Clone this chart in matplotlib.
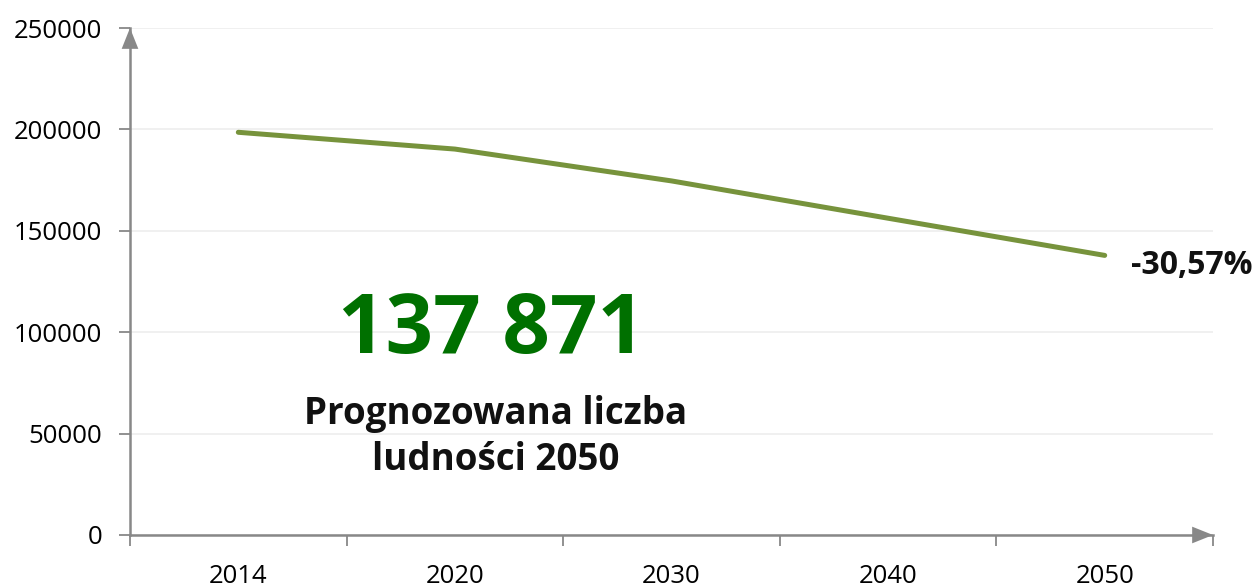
import matplotlib
matplotlib.use("Agg")
import matplotlib.pyplot as plt
import numpy as np

years = ["2014", "2020", "2030", "2040", "2050"]
population = [198576, 190300, 174600, 156200, 137871]
y_ticks = [0, 50000, 100000, 150000, 200000, 250000]
big_number = "137 871"
big_caption = "Prognozowana liczba\nludności 2050"
change_label = "-30,57%"

plt.rcParams["font.family"] = ["Open Sans", "DejaVu Sans"]

AXIS_GRAY = "#888888"
LINE_GREEN = "#77933C"
NUMBER_GREEN = "#007000"

fig = plt.figure(figsize=(12.57, 5.85), dpi=100)
ax = fig.add_axes([130 / 1257, 1 - 535 / 585, (1213 - 130) / 1257, (535 - 28) / 585])

x = np.arange(len(years))
ax.plot(x, population, color=LINE_GREEN, linewidth=3.6, solid_capstyle="round", zorder=3)

ax.set_xlim(-0.5, len(years) - 0.5)
ax.set_ylim(0, 250000)
ax.set_yticks(y_ticks)
ax.set_yticklabels([str(v) for v in y_ticks])

# category axis: ticks sit on the boundaries, labels in the middle
ax.set_xticks(np.arange(-0.5, len(years), 1.0))
ax.set_xticklabels([])
ax.set_xticks(x, minor=True)
ax.set_xticklabels(years, minor=True)
ax.tick_params(axis="x", which="minor", length=0, pad=21, labelsize=18.5)
ax.tick_params(axis="x", which="major", length=8, width=1.3, color=AXIS_GRAY, direction="out")
ax.tick_params(axis="y", length=8, width=1.3, color=AXIS_GRAY, labelsize=18.5, pad=12)

for s in ["top", "right"]:
    ax.spines[s].set_visible(False)
for s in ["left", "bottom"]:
    ax.spines[s].set_color(AXIS_GRAY)
    ax.spines[s].set_linewidth(1.8)

ax.grid(axis="y", color="#eeeeee", linewidth=1.2, zorder=0)
ax.set_axisbelow(True)

# arrow heads on the axes; lw=0 so only the filled head shows over the spine
arrow = dict(arrowstyle="-|>,head_length=0.75,head_width=0.3", mutation_scale=20,
             color=AXIS_GRAY, lw=0, shrinkA=0, shrinkB=0)
ax.annotate("", xy=(0, 1.0), xytext=(0, 0.8), xycoords="axes fraction", arrowprops=arrow)
ax.annotate("", xy=(1.0, 0), xytext=(0.9, 0), xycoords="axes fraction", arrowprops=arrow)

fig.text(492 / 1257, 1 - 331 / 585, big_number, ha="center", va="center",
         fontsize=60, fontweight="bold", color=NUMBER_GREEN)
fig.text(496 / 1257, 1 - 437 / 585, big_caption, ha="center", va="center",
         fontsize=26.5, fontweight="bold", color="#111111", linespacing=1.25)
ax.annotate(change_label, xy=(x[-1], population[-1]), xytext=(19, -7),
            textcoords="offset points", ha="left", va="center",
            fontsize=23, fontweight="bold", color="#111111", annotation_clip=False)

fig.savefig("out.png", dpi=100)
